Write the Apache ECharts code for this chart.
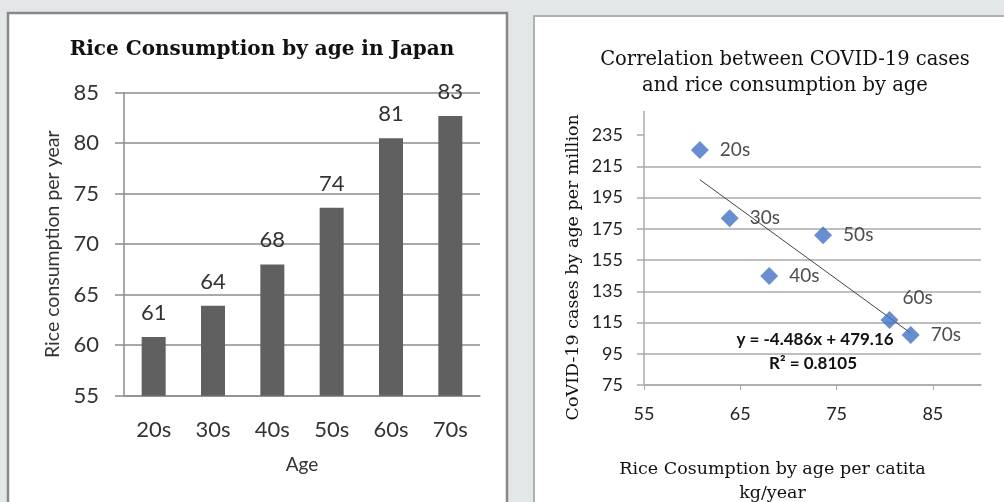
<!DOCTYPE html>
<html>
<head>
<meta charset="utf-8">
<script src="https://cdn.jsdelivr.net/npm/echarts@6/dist/echarts.min.js"></script>
<style>
  html, body { margin: 0; padding: 0; }
  #chart { width: 1004px; height: 502px; }
</style>
</head>
<body>
<div id="chart"></div>
<script>
// data
const ages = ["20s", "30s", "40s", "50s", "60s", "70s"];
const riceKg = [60.8, 63.9, 68.0, 73.6, 80.5, 82.7];
const covidPerMillion = [225.4, 181.7, 144.8, 170.8, 116.6, 107.0];
// end points of the excel trendline
const trendX = [60.8, 82.7];
const trendY = [206.4, 108.2];
const scatterXTicks = [55, 65, 75, 85];
const scatterYTicks = [75, 95, 115, 135, 155, 175, 195, 215, 235];

const sans = "Lato";
const serif = "DejaVu Serif";

let chart = echarts.init(document.getElementById("chart"));

let scatterData = ages.map((a, i) => {
  let item = { name: a, value: [riceKg[i], covidPerMillion[i]] };
  if (a == "60s") {
    item.label = { offset: [-7, -22] }; // sits above the point
  }
  return item;
});

let option = {
  backgroundColor: "#e3e7e7",
  animation: false,
  graphic: [
    {
      type: "rect", z: -10,
      shape: { x: 8, y: 13, width: 499, height: 500 },
      style: { fill: "#fff", stroke: "#888", lineWidth: 2.5 },
    },
    {
      type: "rect", z: -10,
      shape: { x: 534, y: 16, width: 480, height: 500 },
      style: { fill: "#fff", stroke: "#b0b0b0", lineWidth: 2 },
    },
    {
      type: "text", z: 10,
      style: {
        x: 815, y: 340, text: "y = -4.486x + 479.16",
        align: "center", verticalAlign: "middle",
        font: "bold 17px " + sans, fill: "#111",
      },
    },
    {
      type: "text", z: 10,
      style: {
        x: 813, y: 364, text: "R² = 0.8105",
        align: "center", verticalAlign: "middle",
        font: "bold 17px " + sans, fill: "#111",
      },
    },
  ],
  title: [
    {
      text: "Rice Consumption by age in Japan",
      left: 257, top: 35, textAlign: "center",
      textStyle: { fontFamily: serif, fontWeight: "bold", fontSize: 20, color: "#111" },
    },
    {
      text: "Correlation between COVID-19 cases\nand rice consumption by age",
      left: 780, top: 42, textAlign: "center",
      textStyle: { fontFamily: serif, fontWeight: "normal", fontSize: 19.5, lineHeight: 26, color: "#111" },
    },
  ],
  grid: [
    { left: 124, top: 92.7, right: 524, bottom: 106.3, outerBoundsMode: "none" },
    { left: 644, top: 111.6, right: 23, bottom: 117, outerBoundsMode: "none" },
  ],
  xAxis: [
    {
      gridIndex: 0,
      type: "category",
      data: ages,
      name: "Age",
      nameLocation: "middle",
      nameGap: 60,
      nameTextStyle: { fontFamily: sans, fontSize: 19, color: "#333" },
      axisLine: { lineStyle: { color: "#8c8c8c", width: 1.5 } },
      axisTick: { length: 9, lineStyle: { color: "#8c8c8c", width: 1.5 } },
      axisLabel: { margin: 23, fontFamily: sans, fontSize: 22, color: "#333" },
    },
    {
      gridIndex: 1,
      type: "value",
      min: 55,
      max: 90,
      interval: 10,
      name: "Rice Cosumption by age per catita\nkg/year",
      nameLocation: "middle",
      nameGap: 72,
      nameTextStyle: {
        fontFamily: serif, fontSize: 17.5, lineHeight: 24, color: "#111",
        padding: [0, 80, 0, 0],
      },
      axisLine: { lineStyle: { color: "#aaa", width: 1.5 } },
      axisTick: { show: true, length: 5, customValues: scatterXTicks, lineStyle: { color: "#aaa" } },
      axisLabel: { customValues: scatterXTicks, margin: 20, fontFamily: sans, fontSize: 18, color: "#222" },
      splitLine: { show: false },
    },
  ],
  yAxis: [
    {
      gridIndex: 0,
      type: "value",
      min: 55,
      max: 85,
      interval: 5,
      name: "Rice consumption per year",
      nameLocation: "middle",
      nameGap: 61,
      nameTextStyle: { fontFamily: sans, fontSize: 19.5, color: "#333" },
      axisLine: { show: true, lineStyle: { color: "#8c8c8c", width: 1.5 } },
      axisTick: { show: true, length: 9, lineStyle: { color: "#8c8c8c", width: 1.5 } },
      axisLabel: { margin: 25, fontFamily: sans, fontSize: 22, color: "#333" },
      splitLine: { lineStyle: { color: "#8c8c8c", width: 1.5 } },
    },
    {
      gridIndex: 1,
      type: "value",
      min: 75,
      max: 250,
      interval: 20,
      name: "CoVID-19 cases by age per million",
      nameLocation: "middle",
      nameGap: 62,
      nameTextStyle: {
        fontFamily: serif, fontSize: 17.5, color: "#111",
        padding: [0, 38, 0, 0],
      },
      axisLine: { show: true, lineStyle: { color: "#aaa", width: 1.5 } },
      axisTick: { show: true, length: 7, customValues: scatterYTicks, lineStyle: { color: "#aaa", width: 1.5 } },
      axisLabel: { customValues: scatterYTicks, margin: 21, fontFamily: sans, fontSize: 18, color: "#222" },
      splitLine: { showMaxLine: false, lineStyle: { color: "#aaa", width: 1.5 } },
    },
  ],
  series: [
    {
      type: "bar",
      xAxisIndex: 0,
      yAxisIndex: 0,
      data: riceKg,
      barWidth: 24,
      itemStyle: { color: "#606060" },
      label: {
        show: true,
        position: "top",
        distance: 13,
        fontFamily: sans,
        fontSize: 22,
        color: "#333",
        formatter: (p) => Math.round(p.value),
      },
    },
    {
      type: "line",
      xAxisIndex: 1,
      yAxisIndex: 1,
      data: trendX.map((x, i) => [x, trendY[i]]),
      symbol: "none",
      lineStyle: { color: "#444", width: 1 },
      z: 1,
    },
    {
      type: "scatter",
      xAxisIndex: 1,
      yAxisIndex: 1,
      data: scatterData,
      symbol: "diamond",
      symbolSize: 18,
      itemStyle: { color: "#4472c4" },
      label: {
        show: true,
        position: "right",
        distance: 11,
        formatter: "{b}",
        fontFamily: sans,
        fontSize: 19,
        color: "#222",
      },
    },
  ],
};
chart.setOption(option, true);
</script>
</body>
</html>
